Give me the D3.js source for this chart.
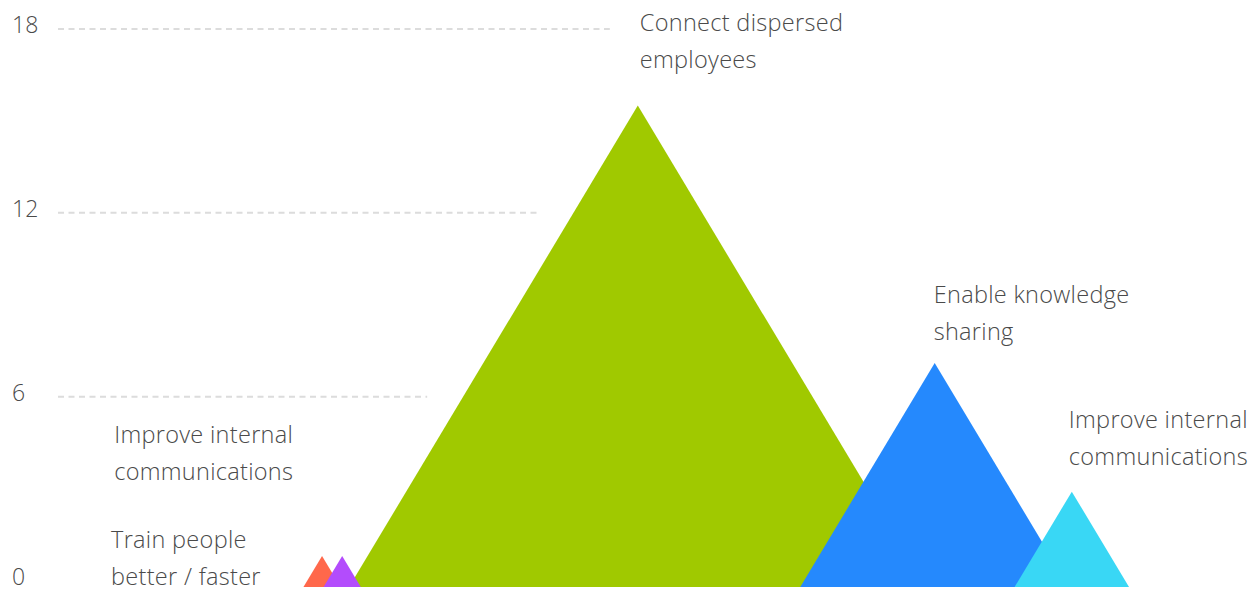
<!DOCTYPE html>
<html>
<head>
<meta charset="utf-8">
<script src="https://cdn.jsdelivr.net/npm/d3@7"></script>
<style>
  html, body { margin: 0; padding: 0; background: #fff; }
  svg { display: block; }
  text { font-family: "Open Sans", "Lato", sans-serif; font-weight: 300; fill: #4a4a4a; }
</style>
</head>
<body>
<svg id="chart" width="1258" height="589"></svg>
<script>
// ---- data ----
const categories = [
  "Train people\nbetter / faster",
  "Improve internal\ncommunications",
  "Connect dispersed\nemployees",
  "Enable knowledge\nsharing",
  "Improve internal\ncommunications"
];
const values = [0.8, 0.8, 15.5, 7.1, 2.9];
const xPositions = [25.6, 27.2, 50.7, 74.3, 85.2];
const colors = ["#ff684b", "#b34cfc", "#a0c900", "#2589fd", "#39d7f5"];
const yTicks = [0, 6, 12, 18];

// ---- layout ----
const W = 1258, H = 589;
const baseY = 587;
const widthRatio = 0.6;
// label offsets relative to apex (dx, first-line dy)
const labelOffsets = [[-211, -17], [-228, -122], [2, -84], [-1, -69], [-3, -73]];
const lineH = 37;
const fontSize = 23.5;

const svg = d3.select("#chart");
const x = d3.scaleLinear().domain([0, 100]).range([0, W]);
const y = d3.scaleLinear().domain([0, 18]).range([580.5, 29]);

const items = categories.map((c, i) => ({
  cat: c, value: values[i], x: xPositions[i], color: colors[i], i
}));

function apex(d) { return [x(d.x), y(d.value)]; }
function halfW(d) { return widthRatio * (baseY - y(d.value)); }

const labelBoxes = items.map(d => {
  const [ax, ay] = apex(d);
  const [dx, dy] = labelOffsets[d.i];
  const lines = d.cat.split("\n");
  return { x: ax + dx, top: ay + dy - lineH / 2, bottom: ay + dy + (lines.length - 0.5) * lineH };
});

// gridlines
const gridStart = 58;
const grid = svg.append("g");
yTicks.filter(t => t > 0).forEach(t => {
  const gy = y(t);
  let end = W;
  items.forEach(d => {
    const [ax, ay] = apex(d);
    if (gy >= ay && gy <= baseY) {
      const left = ax - widthRatio * (gy - ay);
      end = Math.min(end, left - 36);
    }
  });
  labelBoxes.forEach(b => {
    if (gy >= b.top && gy <= b.bottom && b.x > gridStart) end = Math.min(end, b.x - 30);
  });
  grid.append("line")
    .attr("x1", gridStart).attr("x2", end)
    .attr("y1", gy).attr("y2", gy)
    .attr("stroke", "#dcdcdc")
    .attr("stroke-width", 2)
    .attr("stroke-dasharray", "6,4.5");
});

// tick labels
svg.append("g").selectAll("text").data(yTicks).join("text")
  .attr("x", 12)
  .attr("y", d => y(d) - 5)
  .attr("dominant-baseline", "central")
  .attr("font-size", 23)
  .text(d => d);

// triangles (larger drawn first)
const drawOrder = items.slice().sort((a, b) => d3.descending(a.value, b.value) || a.i - b.i);
svg.append("g").selectAll("path").data(drawOrder).join("path")
  .attr("d", d => {
    const [ax, ay] = apex(d);
    const hw = halfW(d);
    return `M${ax},${ay}L${ax + hw},${baseY}L${ax - hw},${baseY}Z`;
  })
  .attr("fill", d => d.color);

// labels
const lg = svg.append("g");
items.forEach(d => {
  const [ax, ay] = apex(d);
  const [dx, dy] = labelOffsets[d.i];
  const t = lg.append("text")
    .attr("x", ax + dx)
    .attr("y", ay + dy)
    .attr("font-size", fontSize)
    .attr("letter-spacing", 0.3)
    .attr("dominant-baseline", "central");
  d.cat.split("\n").forEach((ln, k) => {
    t.append("tspan").attr("x", ax + dx).attr("dy", k === 0 ? 0 : lineH).text(ln);
  });
});
</script>
</body>
</html>
